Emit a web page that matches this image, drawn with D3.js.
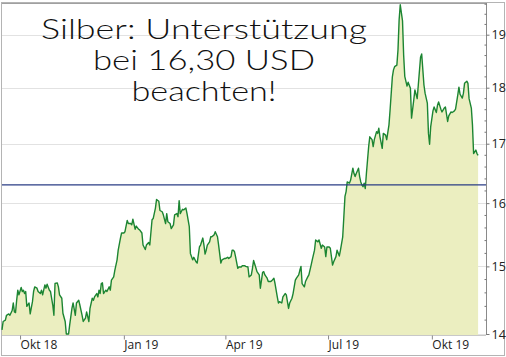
<!DOCTYPE html>
<html lang="de">
<head>
<meta charset="UTF-8">
<title>Silber</title>
<script src="https://d3js.org/d3.v7.min.js"></script>
<style>
body { margin: 0; background: #fff; }
svg { display: block; font-family: "Open Sans", "Noto Sans", sans-serif; }
</style>
</head>
<body>
<div id="chart"></div>
<script>
// silver price (USD)
var dates = [
  "2018-09-15","2018-09-16","2018-09-18","2018-09-19","2018-09-21","2018-09-22","2018-09-24","2018-09-25","2018-09-26","2018-09-27",
  "2018-09-28","2018-09-29","2018-09-30","2018-10-02","2018-10-03","2018-10-04","2018-10-05","2018-10-06","2018-10-07","2018-10-09",
  "2018-10-10","2018-10-12","2018-10-13","2018-10-14","2018-10-16","2018-10-17","2018-10-19","2018-10-20","2018-10-21","2018-10-23",
  "2018-10-24","2018-10-25","2018-10-27","2018-10-28","2018-10-30","2018-10-31","2018-11-01","2018-11-03","2018-11-04","2018-11-05",
  "2018-11-07","2018-11-08","2018-11-10","2018-11-11","2018-11-13","2018-11-14","2018-11-16","2018-11-17","2018-11-19","2018-11-20",
  "2018-11-22","2018-11-23","2018-11-25","2018-11-26","2018-11-28","2018-11-29","2018-12-01","2018-12-02","2018-12-04","2018-12-05",
  "2018-12-06","2018-12-08","2018-12-09","2018-12-10","2018-12-11","2018-12-12","2018-12-13","2018-12-14","2018-12-16","2018-12-17",
  "2018-12-19","2018-12-20","2018-12-21","2018-12-23","2018-12-24","2018-12-26","2018-12-27","2018-12-29","2018-12-30","2019-01-01",
  "2019-01-02","2019-01-04","2019-01-05","2019-01-07","2019-01-08","2019-01-09","2019-01-11","2019-01-12","2019-01-14","2019-01-15",
  "2019-01-17","2019-01-18","2019-01-20","2019-01-21","2019-01-23","2019-01-24","2019-01-26","2019-01-27","2019-01-29","2019-01-30",
  "2019-02-01","2019-02-02","2019-02-04","2019-02-05","2019-02-07","2019-02-08","2019-02-09","2019-02-11","2019-02-12","2019-02-14",
  "2019-02-15","2019-02-17","2019-02-18","2019-02-19","2019-02-20","2019-02-22","2019-02-23","2019-02-25","2019-02-26","2019-02-28",
  "2019-03-01","2019-03-03","2019-03-04","2019-03-06","2019-03-07","2019-03-09","2019-03-10","2019-03-12","2019-03-13","2019-03-14",
  "2019-03-15","2019-03-16","2019-03-18","2019-03-19","2019-03-20","2019-03-22","2019-03-23","2019-03-25","2019-03-26","2019-03-28",
  "2019-03-29","2019-03-31","2019-04-01","2019-04-03","2019-04-04","2019-04-06","2019-04-07","2019-04-08","2019-04-09","2019-04-10",
  "2019-04-12","2019-04-13","2019-04-15","2019-04-16","2019-04-18","2019-04-19","2019-04-21","2019-04-22","2019-04-24","2019-04-25",
  "2019-04-26","2019-04-28","2019-04-29","2019-05-01","2019-05-02","2019-05-04","2019-05-05","2019-05-06","2019-05-08","2019-05-09",
  "2019-05-11","2019-05-12","2019-05-14","2019-05-15","2019-05-17","2019-05-18","2019-05-19","2019-05-21","2019-05-22","2019-05-24",
  "2019-05-25","2019-05-27","2019-05-28","2019-05-30","2019-05-31","2019-06-02","2019-06-03","2019-06-05","2019-06-06","2019-06-07",
  "2019-06-08","2019-06-10","2019-06-11","2019-06-13","2019-06-14","2019-06-16","2019-06-17","2019-06-19","2019-06-20","2019-06-22",
  "2019-06-23","2019-06-25","2019-06-26","2019-06-28","2019-06-29","2019-06-30","2019-07-02","2019-07-03","2019-07-05","2019-07-06",
  "2019-07-08","2019-07-09","2019-07-11","2019-07-12","2019-07-14","2019-07-15","2019-07-16","2019-07-17","2019-07-18","2019-07-20",
  "2019-07-21","2019-07-23","2019-07-24","2019-07-25","2019-07-26","2019-07-28","2019-07-29","2019-07-30","2019-07-31","2019-08-01",
  "2019-08-02","2019-08-03","2019-08-04","2019-08-05","2019-08-06","2019-08-07","2019-08-09","2019-08-10","2019-08-11","2019-08-13",
  "2019-08-14","2019-08-15","2019-08-16","2019-08-18","2019-08-19","2019-08-21","2019-08-22","2019-08-24","2019-08-25","2019-08-27",
  "2019-08-28","2019-08-29","2019-08-31","2019-09-01","2019-09-02","2019-09-03","2019-09-05","2019-09-06","2019-09-07","2019-09-09",
  "2019-09-10","2019-09-12","2019-09-13","2019-09-15","2019-09-16","2019-09-18","2019-09-19","2019-09-21","2019-09-22","2019-09-24",
  "2019-09-25","2019-09-27","2019-09-28","2019-09-29","2019-09-30","2019-10-02","2019-10-03","2019-10-05","2019-10-06","2019-10-07",
  "2019-10-09","2019-10-10","2019-10-12","2019-10-13","2019-10-15","2019-10-16","2019-10-18","2019-10-19","2019-10-21","2019-10-22",
  "2019-10-24","2019-10-25","2019-10-26","2019-10-28","2019-10-29","2019-10-30","2019-11-01","2019-11-02","2019-11-03","2019-11-05",
  "2019-11-06","2019-11-07","2019-11-09","2019-11-10","2019-11-11"
];
var prices = [
  14.06,14.18,14.20,14.27,14.29,14.27,14.34,14.45,14.32,14.31,
  14.49,14.64,14.57,14.68,14.62,14.64,14.59,14.62,14.40,14.45,
  14.29,14.47,14.62,14.69,14.67,14.62,14.59,14.64,14.57,14.72,
  14.67,14.73,14.64,14.62,14.42,14.27,14.74,14.75,14.69,14.57,
  14.52,14.30,14.18,14.00,14.00,14.13,14.37,14.45,14.27,14.45,
  14.49,14.42,14.27,14.18,14.23,14.32,14.18,14.37,14.52,14.49,
  14.54,14.59,14.54,14.64,14.59,14.74,14.75,14.59,14.64,14.62,
  14.69,14.64,14.79,14.84,14.94,15.10,15.25,15.44,15.52,15.52,
  15.54,15.72,15.67,15.67,15.65,15.74,15.58,15.63,15.58,15.57,
  15.52,15.33,15.26,15.33,15.37,15.33,15.73,15.75,15.92,16.06,
  16.03,15.88,15.86,15.81,15.67,15.83,15.70,15.67,15.59,15.65,
  15.81,15.83,15.78,16.04,15.83,15.90,15.89,15.92,15.83,15.62,
  15.20,15.10,15.14,15.07,15.05,15.30,15.33,15.44,15.33,15.19,
  15.25,15.33,15.38,15.46,15.46,15.49,15.54,15.46,15.33,15.05,
  15.10,15.12,15.12,15.14,15.12,15.15,15.25,15.25,15.23,15.15,
  14.97,14.99,14.99,15.01,15.01,15.00,14.99,14.84,14.87,14.97,
  15.09,14.98,14.92,14.87,14.67,14.91,14.92,14.87,14.82,14.77,
  14.77,14.78,14.82,14.74,14.54,14.45,14.47,14.45,14.54,14.59,
  14.57,14.37,14.45,14.52,14.59,14.79,14.82,14.87,14.94,15.00,
  14.74,14.69,14.77,14.84,14.87,15.02,15.10,15.25,15.41,15.38,
  15.41,15.28,15.33,15.30,15.15,15.30,15.30,15.28,15.02,15.07,
  15.15,15.25,15.16,15.25,15.46,15.78,16.11,16.19,16.35,16.33,
  16.38,16.58,16.49,16.44,16.49,16.58,16.44,16.35,16.30,16.27,
  16.33,16.24,16.49,16.72,16.95,17.12,17.07,16.95,17.07,17.21,
  17.18,17.27,17.12,16.92,17.18,17.15,17.07,17.33,17.60,18.20,
  18.33,18.39,18.42,18.71,19.29,19.59,19.27,18.61,18.21,18.03,
  18.10,17.99,17.45,17.78,17.96,17.80,18.05,18.57,18.63,18.05,
  17.90,17.72,17.18,16.99,17.30,17.58,17.65,17.55,17.68,17.74,
  17.61,17.56,17.63,17.65,17.39,17.49,17.56,17.55,17.58,17.61,
  17.87,18.01,17.88,17.81,17.90,18.08,18.12,18.08,17.80,17.63,
  17.33,16.83,16.89,16.83,16.80
];
var support = 16.30;
var yTicks = [14, 15, 16, 17, 18, 19];
var xTickDates = ["2018-10-01", "2019-01-01", "2019-04-01", "2019-07-01", "2019-10-01"];
var xTickLabels = ["Okt 18", "Jan 19", "Apr 19", "Jul 19", "Okt 19"];
var titleLines = ["Silber: Unterstützung", "bei 16,30 USD", "beachten!"];
var titleWidths = [326, 222, 145];

var W = 506, H = 357;
var plot = {left: 2, right: 486, top: 3, bottom: 335};
var parse = d3.timeParse("%Y-%m-%d");

var data = dates.map(function(d, i) { return {date: parse(d), value: prices[i]}; });

var svg = d3.select("#chart").append("svg")
    .attr("width", W)
    .attr("height", H);

// outer frame
svg.append("rect")
    .attr("x", 1.5).attr("y", 2.5)
    .attr("width", 503).attr("height", 353)
    .attr("fill", "#fff")
    .attr("stroke", "#b4b4b4");

var x = d3.scaleTime()
    .domain([parse("2018-09-15"), parse("2019-11-18")])
    .range([plot.left, plot.right]);

var y = d3.scaleLog()
    .domain([14, 19])
    .range([334, 34.7]);

// grid lines
svg.append("g")
  .selectAll("line")
  .data(yTicks)
  .enter().append("line")
    .attr("x1", plot.left).attr("x2", plot.right)
    .attr("y1", function(d) { return Math.round(y(d)) + 0.5; })
    .attr("y2", function(d) { return Math.round(y(d)) + 0.5; })
    .attr("stroke", "#e2e2e2")
    .attr("stroke-width", 1.2);

// area + line
var area = d3.area()
    .x(function(d) { return x(d.date); })
    .y0(plot.bottom)
    .y1(function(d) { return y(d.value); });

var line = d3.line()
    .x(function(d) { return x(d.date); })
    .y(function(d) { return y(d.value); });

svg.append("path")
    .datum(data)
    .attr("d", area)
    .attr("fill", "#ebeec0");

svg.append("path")
    .datum(data)
    .attr("d", line)
    .attr("fill", "none")
    .attr("stroke", "#1c8532")
    .attr("stroke-width", 1.4)
    .attr("stroke-linejoin", "round");

// support line at 16,30
svg.append("line")
    .attr("x1", plot.left).attr("x2", plot.right)
    .attr("y1", y(support)).attr("y2", y(support))
    .attr("stroke", "#2a3d85")
    .attr("stroke-width", 1.3);

// plot frame: top, bottom
svg.append("line")
    .attr("x1", plot.left).attr("x2", plot.right + 0.5)
    .attr("y1", plot.top + 0.5).attr("y2", plot.top + 0.5)
    .attr("stroke", "#a0a0a0");
svg.append("line")
    .attr("x1", plot.left).attr("x2", plot.right)
    .attr("y1", plot.bottom + 0.5).attr("y2", plot.bottom + 0.5)
    .attr("stroke", "#c8c8c8");

// right axis (log, with minor ticks)
var yAxis = d3.axisRight(y)
    .tickValues(yTicks)
    .tickSize(3)
    .tickPadding(2)
    .tickFormat(d3.format("d"));
var gy = svg.append("g")
    .attr("transform", "translate(" + (plot.right + 0.5) + ",0)")
    .call(yAxis);
gy.select(".domain")
    .attr("d", "M0," + plot.top + "V" + plot.bottom)
    .attr("stroke", "#8a8a8a");
gy.selectAll(".tick line").attr("stroke", "#777");
gy.selectAll(".tick text")
    .attr("fill", "#222")
    .style("font-size", "12.5px")
    .style("font-family", "\"Open Sans\", sans-serif");

var minor = d3.range(14.2, 19.7, 0.2).filter(function(v) { return Math.abs(v - Math.round(v)) > 0.05; });
gy.append("g")
  .selectAll("line")
  .data(minor)
  .enter().append("line")
    .attr("x1", -2).attr("x2", 0)
    .attr("y1", function(d) { return y(d); })
    .attr("y2", function(d) { return y(d); })
    .attr("stroke", "#777");

// bottom axis, labels start at the tick
var xAxis = d3.axisBottom(x)
    .tickValues(xTickDates.map(parse))
    .tickSize(4)
    .tickFormat(function(d, i) { return xTickLabels[i]; });
var gx = svg.append("g")
    .attr("transform", "translate(0," + (plot.bottom + 0.5) + ")")
    .call(xAxis);
gx.select(".domain").remove();
gx.selectAll(".tick line").attr("stroke", "#888");
gx.selectAll(".tick text")
    .attr("text-anchor", "start")
    .attr("x", 0)
    .attr("y", 5)
    .attr("fill", "#222")
    .style("font-size", "12px")
    .style("font-family", "\"Open Sans\", sans-serif");

// headline, stretched to the width of the handwritten original
svg.append("g")
  .selectAll("text")
  .data(titleLines)
  .enter().append("text")
    .attr("x", 204)
    .attr("y", function(d, i) { return 39 + i * 31; })
    .attr("text-anchor", "middle")
    .attr("textLength", function(d, i) { return titleWidths[i]; })
    .attr("lengthAdjust", "spacingAndGlyphs")
    .attr("fill", "#111")
    .style("font-family", "Lato, \"Open Sans\", sans-serif")
    .style("font-weight", 300)
    .style("font-size", "28px")
    .text(function(d) { return d; });
</script>
</body>
</html>
